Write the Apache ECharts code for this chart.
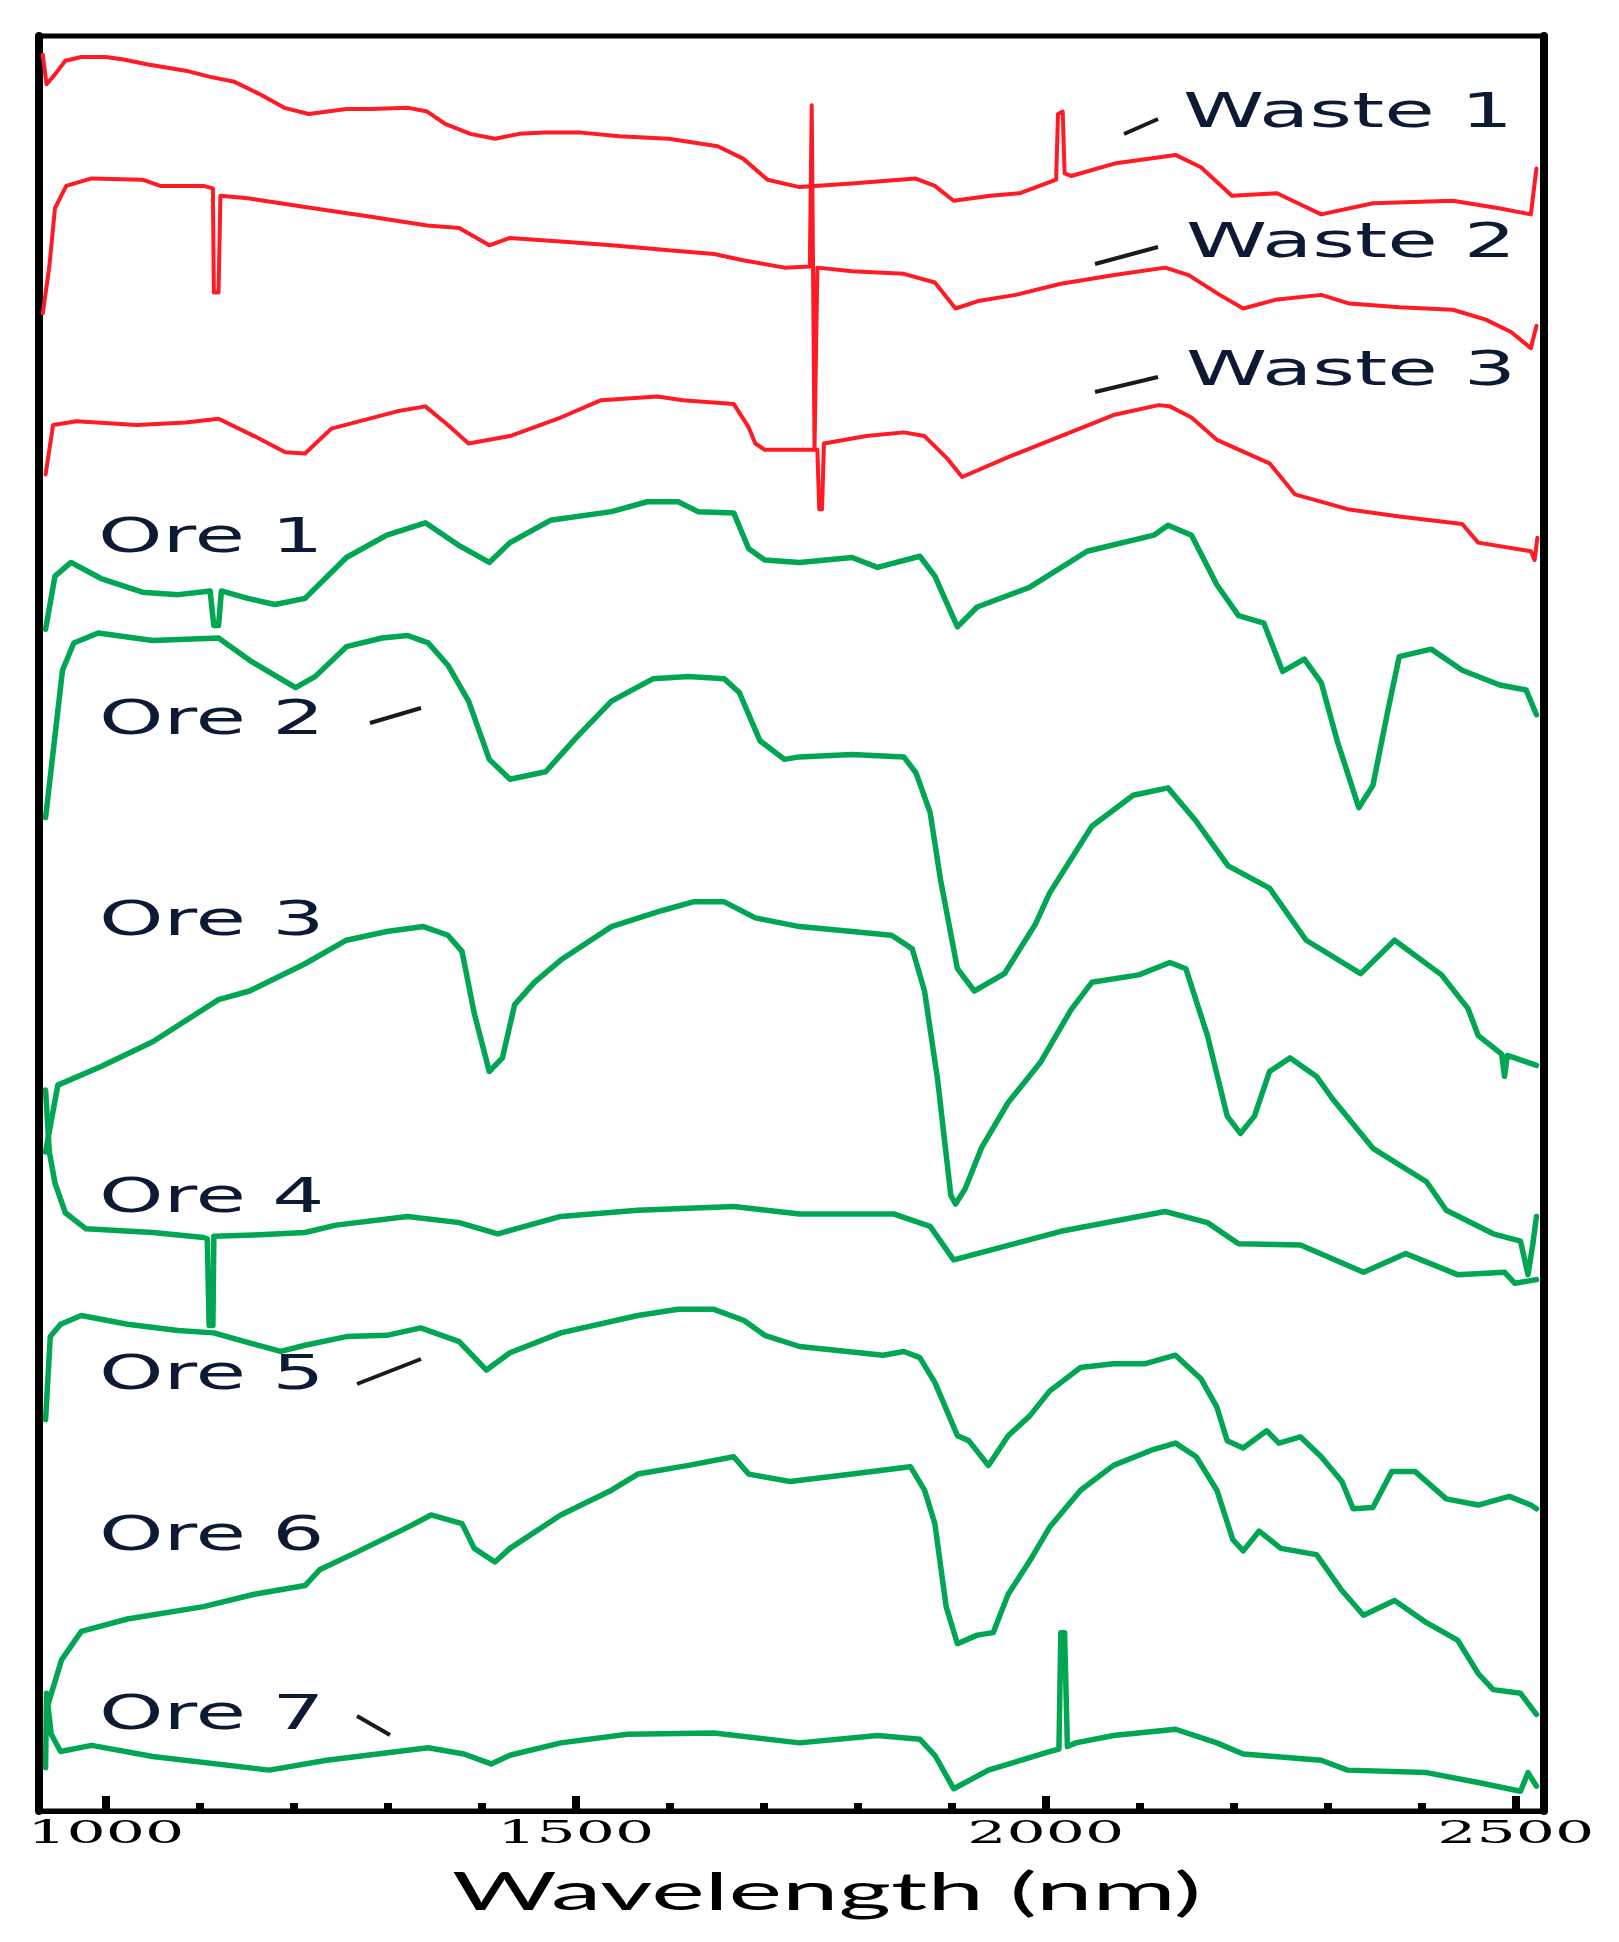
<!DOCTYPE html>
<html>
<head>
<meta charset="utf-8">
<script src="https://cdn.jsdelivr.net/npm/echarts@6/dist/echarts.min.js"></script>
<style>
html,body{margin:0;padding:0;background:#fff;}
#chart{width:1619px;height:1942px;}
</style>
</head>
<body>
<div id="chart"></div>
<script>
// ---------- DATA (wavelength nm, offset reflectance, arbitrary units) ----------
const seriesNames = ['Waste 1','Waste 2','Waste 3','Ore 1','Ore 2','Ore 3','Ore 4','Ore 5','Ore 6','Ore 7'];

const waste1 = [[933,14.18],[937,13.94],[946,14.02],[957,14.13],[974,14.16],[1000,14.16],[1019,14.14],[1045,14.10],[1085,14.05],[1111,14.00],[1137,13.96],[1164,13.86],[1190,13.75],[1216,13.70],[1236,13.72],[1256,13.74],[1282,13.74],[1322,13.75],[1342,13.72],[1361,13.62],[1388,13.54],[1414,13.50],[1440,13.54],[1467,13.55],[1506,13.55],[1546,13.52],[1599,13.50],[1651,13.44],[1678,13.34],[1704,13.17],[1738,13.11],[1794,13.14],[1861,13.18],[1882,13.12],[1902,13.00],[1941,13.04],[1972,13.06],[2004,13.15],[2011,13.17],[2013,13.70],[2018,13.72],[2020,13.22],[2027,13.20],[2073,13.30],[2138,13.37],[2165,13.27],[2198,13.04],[2246,13.06],[2271,12.97],[2293,12.89],[2348,12.98],[2433,13.00],[2482,12.94],[2516,12.89],[2522,13.26]];

const waste2 = [[933,12.09],[940,12.47],[946,12.94],[958,13.12],[985,13.18],[1039,13.17],[1058,13.12],[1104,13.12],[1114,13.10],[1115,12.26],[1120,12.26],[1122,13.04],[1151,13.02],[1212,12.95],[1282,12.87],[1342,12.80],[1376,12.78],[1408,12.64],[1430,12.70],[1484,12.67],[1538,12.64],[1599,12.60],[1647,12.57],[1678,12.52],[1722,12.46],[1749,12.47],[1751,13.77],[1754,11.00],[1757,12.46],[1794,12.43],[1849,12.41],[1882,12.34],[1904,12.13],[1928,12.19],[1968,12.24],[2016,12.33],[2073,12.40],[2127,12.46],[2152,12.40],[2185,12.24],[2210,12.13],[2244,12.20],[2293,12.24],[2323,12.17],[2376,12.14],[2433,12.12],[2468,12.04],[2495,11.94],[2516,11.81],[2522,11.99]];

const waste3 = [[936,10.79],[944,11.19],[969,11.22],[1033,11.19],[1085,11.21],[1120,11.24],[1158,11.10],[1191,10.97],[1212,10.96],[1240,11.16],[1310,11.30],[1340,11.34],[1364,11.19],[1386,11.04],[1430,11.10],[1484,11.25],[1527,11.39],[1587,11.42],[1614,11.39],[1668,11.36],[1684,11.17],[1691,11.04],[1701,10.99],[1734,10.99],[1757,10.99],[1759,10.51],[1762,10.51],[1764,11.04],[1809,11.10],[1849,11.13],[1871,11.10],[1895,10.92],[1911,10.77],[1960,10.93],[2016,11.10],[2072,11.27],[2120,11.35],[2132,11.34],[2155,11.25],[2182,11.07],[2238,10.88],[2265,10.63],[2321,10.51],[2376,10.45],[2443,10.39],[2460,10.24],[2516,10.17],[2520,10.10],[2523,10.28]];

const ore1 = [[936,9.54],[946,9.97],[963,10.08],[995,9.95],[1039,9.84],[1077,9.82],[1111,9.85],[1115,9.57],[1120,9.57],[1123,9.85],[1151,9.79],[1180,9.74],[1212,9.79],[1256,10.12],[1299,10.30],[1340,10.40],[1375,10.22],[1408,10.08],[1430,10.24],[1473,10.42],[1538,10.49],[1576,10.57],[1609,10.57],[1630,10.49],[1668,10.48],[1684,10.19],[1701,10.10],[1738,10.08],[1794,10.12],[1821,10.04],[1866,10.13],[1882,9.97],[1906,9.56],[1927,9.72],[1983,9.88],[2044,10.17],[2115,10.30],[2130,10.38],[2155,10.30],[2182,9.90],[2205,9.65],[2232,9.59],[2252,9.20],[2275,9.30],[2293,9.11],[2310,8.64],[2333,8.10],[2348,8.28],[2363,8.85],[2376,9.32],[2410,9.38],[2443,9.21],[2483,9.09],[2511,9.05],[2522,8.85]];

const ore2 = [[936,8.02],[954,9.21],[966,9.43],[992,9.51],[1050,9.45],[1120,9.47],[1153,9.29],[1202,9.07],[1223,9.16],[1256,9.40],[1294,9.47],[1321,9.49],[1343,9.43],[1364,9.25],[1386,8.96],[1408,8.49],[1430,8.33],[1468,8.39],[1501,8.67],[1538,8.96],[1582,9.14],[1620,9.16],[1658,9.14],[1674,9.03],[1696,8.64],[1722,8.49],[1738,8.51],[1794,8.53],[1849,8.51],[1862,8.38],[1877,8.06],[1888,7.52],[1906,6.80],[1924,6.62],[1956,6.76],[1989,7.16],[2004,7.41],[2049,7.95],[2093,8.20],[2130,8.26],[2160,7.99],[2194,7.63],[2238,7.45],[2277,7.03],[2335,6.76],[2371,7.03],[2421,6.75],[2449,6.48],[2460,6.26],[2485,6.11],[2488,5.93],[2491,6.10],[2522,6.02]];

const ore3 = [[936,5.32],[949,5.86],[995,6.01],[1050,6.21],[1120,6.55],[1153,6.62],[1212,6.84],[1256,7.03],[1299,7.10],[1338,7.14],[1364,7.07],[1379,6.94],[1392,6.44],[1408,5.97],[1422,6.08],[1435,6.51],[1456,6.69],[1484,6.87],[1538,7.14],[1592,7.27],[1625,7.34],[1658,7.34],[1691,7.21],[1738,7.14],[1794,7.10],[1836,7.07],[1858,6.96],[1871,6.62],[1885,5.90],[1899,4.97],[1904,4.90],[1914,5.02],[1932,5.36],[1960,5.72],[1994,6.04],[2027,6.47],[2049,6.69],[2099,6.75],[2132,6.85],[2149,6.80],[2172,6.26],[2193,5.61],[2207,5.47],[2222,5.61],[2238,5.97],[2260,6.08],[2288,5.93],[2305,5.75],[2348,5.35],[2405,5.08],[2426,4.85],[2476,4.66],[2505,4.60],[2513,4.33],[2518,4.57],[2522,4.80]];

const ore4 = [[936,5.82],[940,5.32],[946,5.07],[957,4.83],[979,4.70],[1050,4.67],[1104,4.63],[1108,4.62],[1110,3.92],[1114,3.92],[1115,4.64],[1158,4.65],[1212,4.67],[1245,4.73],[1321,4.80],[1376,4.75],[1417,4.66],[1484,4.80],[1566,4.85],[1668,4.88],[1738,4.82],[1838,4.82],[1877,4.72],[1902,4.45],[1927,4.50],[2016,4.68],[2127,4.84],[2172,4.75],[2205,4.58],[2271,4.57],[2338,4.35],[2383,4.50],[2438,4.33],[2488,4.35],[2499,4.26],[2522,4.29]];

const ore5 = [[936,3.16],[941,3.83],[952,3.93],[974,4.00],[1023,3.93],[1077,3.88],[1115,3.86],[1148,3.79],[1186,3.71],[1212,3.76],[1256,3.83],[1299,3.84],[1335,3.90],[1376,3.79],[1405,3.56],[1430,3.70],[1484,3.86],[1566,4.00],[1609,4.05],[1647,4.05],[1679,3.96],[1701,3.84],[1738,3.75],[1827,3.68],[1849,3.71],[1866,3.66],[1882,3.46],[1906,3.03],[1918,2.99],[1939,2.79],[1960,3.03],[1983,3.19],[2004,3.39],[2037,3.58],[2072,3.61],[2105,3.61],[2138,3.68],[2165,3.49],[2182,3.26],[2193,2.99],[2210,2.93],[2235,3.07],[2248,2.97],[2271,3.02],[2293,2.86],[2315,2.66],[2327,2.44],[2348,2.45],[2368,2.74],[2393,2.74],[2426,2.52],[2460,2.47],[2493,2.54],[2516,2.47],[2522,2.44]];

const ore6 = [[937,0.82],[953,1.22],[974,1.45],[1023,1.55],[1104,1.65],[1158,1.75],[1212,1.82],[1228,1.95],[1267,2.09],[1321,2.29],[1346,2.39],[1379,2.32],[1392,2.12],[1414,2.01],[1430,2.12],[1484,2.39],[1538,2.59],[1566,2.72],[1620,2.79],[1668,2.86],[1684,2.72],[1728,2.66],[1794,2.72],[1856,2.78],[1871,2.59],[1882,2.32],[1894,1.65],[1906,1.35],[1927,1.42],[1944,1.44],[1960,1.75],[1983,2.02],[2004,2.29],[2037,2.59],[2072,2.79],[2115,2.92],[2138,2.97],[2160,2.86],[2182,2.59],[2199,2.19],[2210,2.10],[2227,2.26],[2250,2.12],[2288,2.07],[2315,1.78],[2338,1.58],[2371,1.70],[2405,1.52],[2438,1.38],[2460,1.11],[2476,0.98],[2505,0.95],[2522,0.78]];

const ore7 = [[936,0.35],[937,0.95],[942,0.62],[952,0.48],[985,0.53],[1050,0.44],[1174,0.33],[1235,0.41],[1343,0.51],[1381,0.46],[1410,0.38],[1430,0.45],[1484,0.55],[1555,0.62],[1647,0.63],[1738,0.55],[1821,0.61],[1866,0.58],[1882,0.45],[1902,0.18],[1939,0.33],[2004,0.48],[2014,0.50],[2016,1.44],[2020,1.44],[2023,0.52],[2032,0.55],[2072,0.61],[2138,0.66],[2182,0.55],[2210,0.46],[2293,0.41],[2321,0.33],[2405,0.31],[2460,0.23],[2505,0.16],[2513,0.31],[2522,0.20]];

const majorTicks = [1000, 1500, 2000, 2500];
const minorTicks = [1100, 1200, 1300, 1400, 1600, 1700, 1800, 1900, 2100, 2200, 2300, 2400];
const xTitle = 'Wavelength (nm)';

// ---------- CHART ----------
const seriesData = [waste1, waste2, waste3, ore1, ore2, ore3, ore4, ore5, ore6, ore7];
const RED = '#ff1a24', GREEN = '#00a651';

const chart = echarts.init(document.getElementById('chart'), null, {renderer: 'canvas', width: 1619, height: 1942});

const ctx = document.createElement('canvas').getContext('2d');
function measure(text, font) { ctx.font = font; return ctx.measureText(text).width; }

const labelFont = '48px "DejaVu Sans"';
const labelScale = 330 / measure('Waste 1', labelFont);
const titleFont = '52px Lato';
const titleScale = 749 / measure(xTitle, titleFont);
const tickFontSize = 32;
const tickScale = 157 / measure('1000', tickFontSize + 'px "DejaVu Serif"');

// annotation placement (pixel layout, left x / vertical middle of capitals)
const labelLayout = [
  [1183, 115], [1186, 245], [1186, 373],
  [98, 540], [99, 722], [99, 923], [99, 1200], [99, 1377], [99, 1538], [99, 1717]
];
const leaderLines = [
  [1124, 134, 1158, 119],
  [1095, 264, 1158, 247],
  [1095, 392, 1158, 377],
  [370, 723, 421, 708],
  [357, 1384, 421, 1359],
  [357, 1716, 390, 1735]
];

const graphics = [];
seriesNames.forEach((name, i) => {
  graphics.push({
    type: 'text', x: labelLayout[i][0], y: labelLayout[i][1],
    scaleX: labelScale, scaleY: 1, originX: 0, originY: 0, silent: true, z: 10,
    style: { text: name, font: labelFont, fill: '#0d1a33', textAlign: 'left', textVerticalAlign: 'middle', align: 'left', verticalAlign: 'middle' }
  });
});
leaderLines.forEach(l => {
  graphics.push({
    type: 'line', silent: true, z: 10,
    shape: { x1: l[0], y1: l[1], x2: l[2], y2: l[3] },
    style: { stroke: '#1a1a1a', lineWidth: 4 }
  });
});
graphics.push({
  type: 'text', x: 452, y: 1893, scaleX: titleScale, scaleY: 1, originX: 0, originY: 0, silent: true, z: 10,
  style: { text: xTitle, font: titleFont, fill: '#000', textAlign: 'left', textVerticalAlign: 'middle', align: 'left', verticalAlign: 'middle' }
});

const yAxisCommon = {
  type: 'value', min: 0, max: 14.33,
  axisLine: { show: true, onZero: false, lineStyle: { color: '#000', width: 8 } },
  axisTick: { show: false }, axisLabel: { show: false }, splitLine: { show: false }
};

const option = {
  animation: false,
  backgroundColor: '#ffffff',
  grid: { left: 39, right: 75, top: 36, bottom: 131, show: true, borderColor: '#000', borderWidth: 5, backgroundColor: 'transparent' },
  xAxis: [
    {
      type: 'value', min: 929, max: 2530, position: 'bottom',
      axisLine: { show: true, onZero: false, lineStyle: { color: '#000', width: 5 } },
      axisTick: { show: true, inside: true, length: 15, customValues: majorTicks, lineStyle: { color: '#000', width: 8 } },
      axisLabel: {
        show: true, customValues: majorTicks, margin: 8,
        fontFamily: 'DejaVu Serif', fontSize: tickFontSize, color: '#000',
        formatter: v => String(Math.round(v))
      },
      splitLine: { show: false }
    },
    {
      type: 'value', min: 929, max: 2530, position: 'bottom',
      axisLine: { show: false, onZero: false },
      axisTick: { show: true, inside: true, length: 8, customValues: minorTicks, lineStyle: { color: '#000', width: 8 } },
      axisLabel: { show: false },
      splitLine: { show: false }
    }
  ],
  yAxis: [
    Object.assign({ position: 'left' }, yAxisCommon),
    Object.assign({ position: 'right' }, yAxisCommon)
  ],
  series: seriesNames.map((name, i) => ({
    name: name, type: 'line', data: seriesData[i],
    xAxisIndex: 0, yAxisIndex: 0,
    symbol: 'none', showSymbol: false, smooth: false, clip: true, silent: true,
    lineStyle: { color: i < 3 ? RED : GREEN, width: i < 3 ? 4 : 5.5, join: 'round', cap: 'round' },
    z: 2
  })),
  graphic: graphics
};

chart.setOption(option);

// widen the axis tick labels horizontally, like the stretched lettering of the original figure
try {
  const zr = chart.getZr();
  const tickStrings = majorTicks.map(String);
  const done = new Set();
  zr.storage.getDisplayList(true).forEach(el => {
    const t = el.style && el.style.text;
    if (tickStrings.indexOf(t) < 0) return;
    let host = el;
    if (el.parent && el.parent.style && el.parent.style.text === t) host = el.parent;
    if (done.has(host)) return;
    done.add(host);
    host.scaleX = tickScale; host.originX = 0; host.originY = 0;
    if (host.markRedraw) host.markRedraw();
    if (el.markRedraw) el.markRedraw();
  });
  zr.refreshImmediately();
} catch (e) { /* leave labels as they are */ }
</script>
</body>
</html>
